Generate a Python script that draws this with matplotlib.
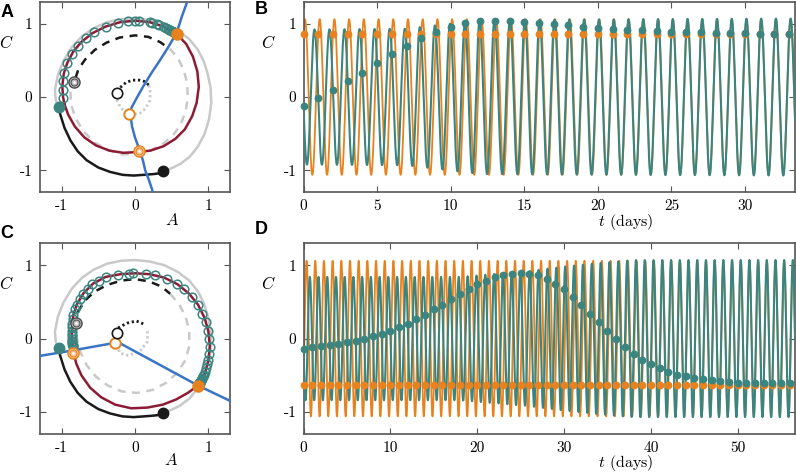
import matplotlib.pyplot as plt
import numpy as np

plt.rcParams['mathtext.fontset'] = 'cm'

TEAL = '#3B8580'
ORANGE = '#E8821E'
BLUE = '#3A74C4'
RED = '#8E1B33'
GRAY = '#C9C9C9'
BLACK = '#1A1A1A'
SPINE = '#555555'

# ---------------- time series data (stroboscopic values at integer days) ----------------
days_B = np.arange(34)
teal_B = [-0.12, -0.02, 0.09, 0.22, 0.33, 0.46, 0.58, 0.70, 0.80, 0.88, 0.96, 1.01,
          1.03, 1.04, 1.035, 1.02, 1.01, 0.99, 0.98, 0.96, 0.94, 0.93, 0.92, 0.91,
          0.90, 0.89, 0.88, 0.88, 0.87, 0.87, 0.87, 0.86, 0.86, 0.86]
orange_B = 0.86
amp_days_B = [0, 7, 10, 12, 33]
amp_teal_B = [0.92, 0.93, 1.00, 1.05, 1.07]

days_D = np.arange(57)
teal_D = [-0.136, -0.118, -0.105, -0.09, -0.073, -0.05, -0.027, 0.0, 0.03, 0.064,
          0.11, 0.155, 0.20, 0.27, 0.32, 0.40, 0.46, 0.54, 0.61, 0.68,
          0.74, 0.79, 0.84, 0.87, 0.885, 0.888, 0.88, 0.86, 0.81, 0.745,
          0.67, 0.57, 0.46, 0.34, 0.22, 0.10, -0.01, -0.11, -0.21, -0.29,
          -0.35, -0.405, -0.45, -0.49, -0.51, -0.54, -0.555, -0.57, -0.58, -0.59,
          -0.60, -0.60, -0.61, -0.61, -0.61, -0.61, -0.61]
orange_D = -0.63
amp_days_D = [0, 18, 22, 26, 30, 34, 38, 56]
amp_teal_D = [0.84, 0.84, 0.88, 0.92, 0.98, 1.03, 1.07, 1.07]
amp_orange = 1.06

# ---------------- phase plane data ----------------
# intrinsic limit cycle: gray part from black dot round to teal dot, black part back
cycle_A = [0.38, 0.50, 0.62, 0.75, 0.86, 0.95, 1.01, 1.04, 1.03, 0.99, 0.94, 0.86,
           0.74, 0.58, 0.40, 0.20, 0.0, -0.19, -0.38, -0.56, -0.72, -0.86, -0.97,
           -1.05, -1.09, -1.08, -1.04]
cycle_C = [-1.01, -0.97, -0.91, -0.81, -0.67, -0.50, -0.30, -0.08, 0.13, 0.32, 0.48,
           0.64, 0.79, 0.91, 1.00, 1.05, 1.07, 1.06, 1.02, 0.94, 0.83, 0.68, 0.50,
           0.30, 0.10, -0.04, -0.13]
night_A = [-1.04, -1.02, -0.96, -0.88, -0.78, -0.66, -0.50, -0.34, -0.17, -0.02, 0.12,
           0.25, 0.33, 0.38]
night_C = [-0.13, -0.23, -0.42, -0.59, -0.74, -0.86, -0.96, -1.02, -1.06, -1.07, -1.06,
           -1.05, -1.04, -1.01]

# panel A: entrained orbit (starts bottom-left, up over the top, round and back)
redA_A = [-0.96, -0.98, -0.99, -0.97, -0.92, -0.84, -0.73, -0.58, -0.40, -0.20, 0.0,
          0.20, 0.39, 0.57, 0.70, 0.79, 0.85, 0.87, 0.84, 0.78, 0.68, 0.55, 0.39, 0.21,
          0.03, -0.16, -0.35, -0.53, -0.69, -0.82, -0.91, -0.96]
redA_C = [-0.10, 0.0, 0.15, 0.32, 0.47, 0.62, 0.75, 0.87, 0.96, 1.02, 1.04,
          1.02, 0.96, 0.86, 0.72, 0.55, 0.35, 0.14, -0.08, -0.26, -0.44, -0.57, -0.67,
          -0.73, -0.75, -0.76, -0.73, -0.66, -0.55, -0.40, -0.24, -0.10]
blueA_A = [0.72, 0.64, 0.57, 0.46, 0.34, 0.22, 0.11, 0.02, -0.05, -0.06, -0.04, 0.0,
           0.04, 0.07, 0.11, 0.14, 0.19, 0.23, 0.25]
blueA_C = [1.32, 1.10, 0.88, 0.69, 0.50, 0.32, 0.14, -0.02, -0.15, -0.25, -0.40, -0.55,
           -0.66, -0.74, -0.87, -1.0, -1.13, -1.25, -1.32]
dashA_black_A = [-0.81, -0.77, -0.68, -0.55, -0.39, -0.21, 0.0, 0.18, 0.34, 0.47]
dashA_black_C = [0.26, 0.38, 0.51, 0.64, 0.74, 0.81, 0.84, 0.82, 0.75, 0.66]
dashA_gray_A = [0.47, 0.58, 0.66, 0.71, 0.72, 0.69, 0.62, 0.52, 0.38, 0.21, 0.02, -0.18,
                -0.37, -0.55, -0.70, -0.81, -0.87, -0.88]
dashA_gray_C = [0.66, 0.54, 0.38, 0.20, 0.0, -0.20, -0.38, -0.52, -0.64, -0.73, -0.78,
                -0.78, -0.72, -0.62, -0.47, -0.29, -0.10, 0.08]
dotA_black_A = [-0.20, -0.12, -0.03, 0.06, 0.14, 0.19]
dotA_black_C = [0.13, 0.20, 0.23, 0.23, 0.21, 0.16]
dotA_gray_A = [0.19, 0.21, 0.20, 0.15, 0.07, -0.03, -0.12, -0.19, -0.24, -0.25]
dotA_gray_C = [0.16, 0.06, -0.05, -0.15, -0.22, -0.24, -0.21, -0.15, -0.06, 0.02]

# panel C
redC_A = [-0.84, -0.86, -0.86, -0.84, -0.79, -0.70, -0.57, -0.40, -0.20, 0.0, 0.20,
          0.40, 0.58, 0.74, 0.86, 0.95, 1.0, 1.02, 1.0, 0.95, 0.86, 0.72, 0.56, 0.38,
          0.17, -0.05, -0.27, -0.46, -0.61, -0.73, -0.80, -0.84]
redC_C = [-0.18, 0.0, 0.15, 0.32, 0.47, 0.62, 0.75, 0.84, 0.877, 0.89, 0.877,
          0.83, 0.74, 0.61, 0.46, 0.28, 0.10, -0.10, -0.30, -0.48, -0.64, -0.74, -0.83,
          -0.90, -0.94, -0.95, -0.90, -0.80, -0.67, -0.50, -0.34, -0.18]
blueC_A = [-1.32, -0.84, -0.23, 0.86, 1.32]
blueC_C = [-0.24, -0.16, -0.05, -0.64, -0.86]
dashC_black_A = [-0.78, -0.68, -0.55, -0.38, -0.19, 0.0, 0.19, 0.36, 0.48]
dashC_black_C = [0.36, 0.52, 0.64, 0.73, 0.79, 0.81, 0.78, 0.71, 0.61]
dashC_gray_A = [0.48, 0.60, 0.69, 0.74, 0.74, 0.69, 0.58, 0.43, 0.24, 0.03, -0.18, -0.37,
                -0.53, -0.66, -0.75, -0.80, -0.81]
dashC_gray_C = [0.61, 0.47, 0.30, 0.10, -0.10, -0.29, -0.46, -0.60, -0.70, -0.74, -0.72,
                -0.64, -0.52, -0.36, -0.17, 0.03, 0.21]
dotC_black_A = [-0.23, -0.11, 0.02, 0.14]
dotC_black_C = [0.145, 0.21, 0.24, 0.19]
dotC_gray_A = [0.17, 0.17, 0.07, -0.09, -0.20, -0.25]
dotC_gray_C = [0.10, -0.04, -0.17, -0.23, -0.20, -0.10]

teal_start = (-1.04, -0.13)
black_end = (0.38, -1.01)
orangeA_fixed = (0.57, 0.86)
orangeC_fixed = (0.86, -0.64)
orangeA_open = (-0.08, -0.23)
orangeC_open = (-0.27, -0.06)
blackA_open = (-0.25, 0.055)
blackC_open = (-0.25, 0.08)
orangeA_target = (0.05, -0.74)
orangeC_target = (-0.84, -0.19)
grayA_target = (-0.83, 0.20)
grayC_target = (-0.81, 0.21)


def split_sides(values):
    top = int(np.argmax(values))
    return np.array([-1 if i <= top else 1 for i in range(len(values))])


def on_loop(loop_a, loop_c, values, sides):
    # place stroboscopic points on the orbit: left side before the top, right side after
    loop_a = np.asarray(loop_a)
    loop_c = np.asarray(loop_c)
    k = int(np.argmax(loop_c))
    m = int(np.argmin(loop_c))
    out = []
    for c, s in zip(values, sides):
        if s < 0:
            out.append(np.interp(c, loop_c[:k + 1], loop_a[:k + 1]))
        else:
            out.append(np.interp(-c, -loop_c[k:m + 1], loop_a[k:m + 1]))
    return np.array(out)


def day_phases(values, days, amp_days, amp_vals, sides):
    r = np.clip(np.asarray(values) / np.interp(days, amp_days, amp_vals), -1, 1)
    return np.where(sides < 0, np.pi - np.arcsin(r), np.arcsin(r))


def target(ax, xy, face, edge):
    ax.plot(*xy, 'o', ms=8, mfc=face, mec=edge, mew=1.0, zorder=9)
    ax.plot(*xy, 'o', ms=5, mfc='none', mec=edge, mew=0.7, zorder=9)
    ax.plot(*xy, 'o', ms=2, mfc='white', mec='none', zorder=9)


def style(ax, ticks, labels):
    ax.set_xticks(ticks)
    ax.set_xticklabels(labels, fontfamily='cmr10', fontsize=11)
    ax.set_yticks([-1, 0, 1])
    ax.set_yticklabels(['-1', '0', '1'], fontfamily='cmr10', fontsize=11)
    ax.tick_params(direction='in', length=4, width=0.8, color=SPINE, top=True,
                   right=True, pad=5)
    for s in ax.spines.values():
        s.set_color(SPINE)
        s.set_linewidth(1.2)


def phase_panel(ax, red_a, red_c, blue_a, blue_c, dk_a, dk_c, dg_a, dg_c,
                pk_a, pk_c, pg_a, pg_c, teal_vals, fixed, opn, blk, tgt, gtgt):
    lw = 1.8
    ax.plot(dg_a, dg_c, color=GRAY, lw=lw, dashes=(3.2, 2.6), zorder=1)
    ax.plot(dk_a, dk_c, color=BLACK, lw=lw, dashes=(3.2, 2.6), zorder=1)
    ax.plot(pg_a, pg_c, color=GRAY, lw=2.0, dashes=(0.8, 1.0), zorder=1)
    ax.plot(pk_a, pk_c, color=BLACK, lw=2.0, dashes=(0.8, 1.0), zorder=1)
    target(ax, gtgt, '#BDBDBD', '#4A4A4A')
    ax.plot(cycle_A, cycle_C, color=GRAY, lw=lw, zorder=2)
    ax.plot(night_A, night_C, color=BLACK, lw=lw, zorder=3)
    ax.plot(red_a, red_c, color=RED, lw=lw, zorder=3)
    sides = split_sides(teal_vals)
    ta = on_loop(red_a, red_c, teal_vals, sides)
    ax.plot(ta[1:], teal_vals[1:], 'o', ms=6.2, mfc='none', mec=TEAL, mew=1.1, zorder=4)
    ax.plot(blue_a, blue_c, color=BLUE, lw=lw, zorder=5)
    ax.plot(*opn, 'o', ms=7.5, mfc='white', mec=ORANGE, mew=1.4, zorder=7)
    ax.plot(*blk, 'o', ms=7.5, mfc='white', mec=BLACK, mew=1.2, zorder=7)
    target(ax, tgt, '#F5C28E', ORANGE)
    ax.plot(*teal_start, 'o', ms=7.5, color=TEAL, zorder=8)
    ax.plot(*black_end, 'o', ms=7.5, color=BLACK, zorder=8)
    ax.plot(*fixed, 'o', ms=8, color=ORANGE, zorder=8)
    ax.set_xlim(-1.3, 1.3)
    ax.set_ylim(-1.3, 1.3)
    style(ax, [-1, 0, 1], ['-1', '0', '1'])


def series_panel(ax, days, teal_vals, orange_val, amp_days, amp_vals, tmax, ticks):
    days = np.asarray(days)
    sides = split_sides(teal_vals)
    psi_teal = day_phases(teal_vals, days, amp_days, amp_vals, sides)
    psi_orange = np.arcsin(orange_val / amp_orange)
    t = np.linspace(0, tmax, int(tmax * 240))
    c_orange = amp_orange * np.sin(2 * np.pi * t + psi_orange)
    c_teal = np.interp(t, amp_days, amp_vals) * np.sin(2 * np.pi * t + np.interp(t, days, psi_teal))
    ax.plot(t, c_orange, color=ORANGE, lw=1.3, zorder=2)
    ax.plot(t, c_teal, color=TEAL, lw=1.5, zorder=3)
    ax.plot(days, np.full(len(days), orange_val), 'o', ms=4.6, color=ORANGE,
            zorder=4, clip_on=False)
    ax.plot(days, teal_vals, 'o', ms=4.6, color=TEAL, zorder=5, clip_on=False)
    ax.set_xlim(0, tmax)
    ax.set_ylim(-1.3, 1.3)
    style(ax, ticks, [str(v) for v in ticks])


fig = plt.figure(figsize=(7.96, 4.74), dpi=100)
axA = fig.add_axes([0.0497, 0.5940, 0.2397, 0.4026])
axB = fig.add_axes([0.3813, 0.5940, 0.6175, 0.4026])
axC = fig.add_axes([0.0497, 0.0844, 0.2397, 0.4026])
axD = fig.add_axes([0.3813, 0.0844, 0.6175, 0.4026])

phase_panel(axA, redA_A, redA_C, blueA_A, blueA_C, dashA_black_A, dashA_black_C,
            dashA_gray_A, dashA_gray_C, dotA_black_A, dotA_black_C, dotA_gray_A,
            dotA_gray_C, np.array(teal_B), orangeA_fixed, orangeA_open, blackA_open,
            orangeA_target, grayA_target)
phase_panel(axC, redC_A, redC_C, blueC_A, blueC_C, dashC_black_A, dashC_black_C,
            dashC_gray_A, dashC_gray_C, dotC_black_A, dotC_black_C, dotC_gray_A,
            dotC_gray_C, np.array(teal_D), orangeC_fixed, orangeC_open, blackC_open,
            orangeC_target, grayC_target)
series_panel(axB, days_B, teal_B, orange_B, amp_days_B, amp_teal_B, 33.4,
             [0, 5, 10, 15, 20, 25, 30])
series_panel(axD, days_D, teal_D, orange_D, amp_days_D, amp_teal_D, 56.6,
             [0, 10, 20, 30, 40, 50])

# axis labels and panel letters
for x, y in [(0.0075, 0.909), (0.0075, 0.401), (0.337, 0.909), (0.337, 0.401)]:
    fig.text(x, y, r'$C$', fontsize=12, ha='center', va='center')
for x, y in [(0.216, 0.536), (0.215, 0.030)]:
    fig.text(x, y, r'$A$', fontsize=12, ha='center', va='center')
for y in [0.510, 0.002]:
    fig.text(0.786, y, r'$t$ (days)', fontsize=11.5, ha='center', va='bottom',
             fontfamily='cmr10')
for s, x, y in [('A', 0.009, 0.973), ('B', 0.328, 0.979), ('C', 0.008, 0.508),
                ('D', 0.328, 0.515)]:
    fig.text(x, y, s, fontsize=13, fontweight='bold', fontfamily='Liberation Sans',
             ha='center', va='center')

fig.savefig('out.png', dpi=100)
